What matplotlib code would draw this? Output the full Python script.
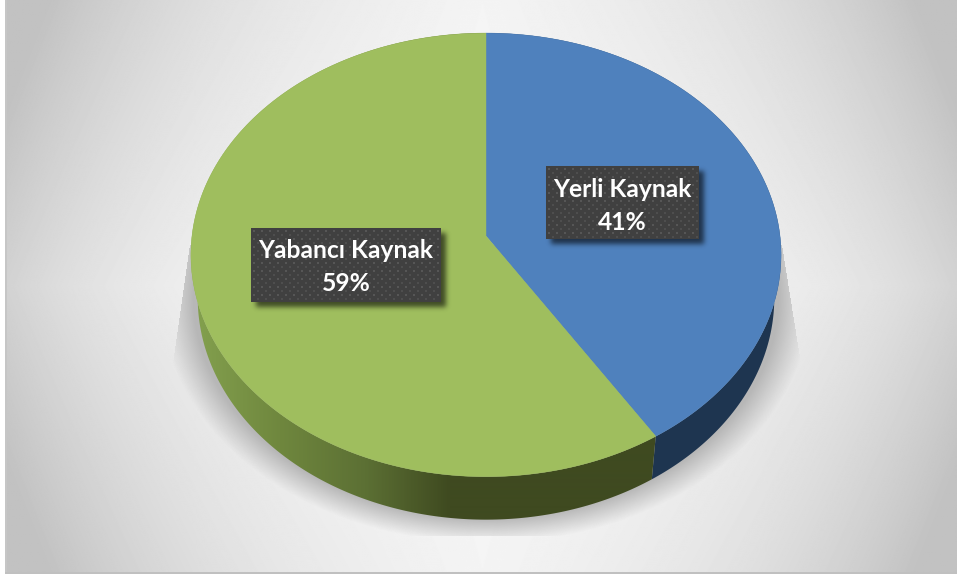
import numpy as np
import matplotlib
matplotlib.use('Agg')
import matplotlib.pyplot as plt
from matplotlib.patches import Polygon, Rectangle
from matplotlib.colors import LinearSegmentedColormap

# --- data ---
categories = ['Yerli Kaynak', 'Yabancı Kaynak']
values = [41, 59]

W, H = 957, 577
BLUE = '#4f81bd'
GREEN = '#9fbe5e'
BLUE_SIDE = '#1e3550'

# pie geometry in pixels (perspective disc)
CX, CY = 486, 236
RX, RY = 294, 220.2
TILT = 0.085
DEPTH = 43
SHRINK = 0.977


def rim(theta_deg):
    # theta runs clockwise from 12 o'clock
    t = np.radians(theta_deg)
    x, y = np.sin(t), np.cos(t)
    d = 1 + TILT * y
    return CX + RX * x / d, CY - RY * y / d


def blur(img, sigma):
    k = np.arange(-int(3 * sigma), int(3 * sigma) + 1)
    g = np.exp(-k**2 / (2 * sigma**2))
    g = g / g.sum()
    img = np.apply_along_axis(lambda r: np.convolve(r, g, mode='same'), 0, img)
    return np.apply_along_axis(lambda r: np.convolve(r, g, mode='same'), 1, img)


fig = plt.figure(figsize=(W / 100, H / 100), dpi=100, facecolor='white')
ax = fig.add_axes([0, 0, 1, 1])
ax.set_xlim(0, W)
ax.set_ylim(H, 0)
ax.axis('off')

yy, xx = np.mgrid[0:H, 0:W] + 0.5

# background gradient
u = np.abs(xx - 480) / 480
v = np.abs(yy - 288) / 288
drop = np.clip(36 * u**3 + 2 * v**2 + 26 * u * v, 0, 52)
ax.imshow(246 - drop, cmap='gray', vmin=0, vmax=255, extent=(5, W, 573, 0),
          aspect='auto', interpolation='bilinear', zorder=1)
ax.add_patch(Rectangle((5, 0), 2, 573, fc='#c6c6c6', ec='none', zorder=2))
ax.add_patch(Rectangle((5, 572), W - 5, 1.5, fc='#c0c0c0', ec='none', zorder=2))

# floor shadow under the pie, cut off by a trapezoid
rho = np.sqrt(((xx - 486) / 325)**2 + ((yy - 298) / 245)**2)
alpha = np.clip((1.0 - rho) / 0.1, 0, 1)
left_edge = 190 - (yy - 245) * 18 / 125
right_edge = 782 + (yy - 245) * 20 / 125
alpha[(xx < left_edge) | (xx > right_edge) | (yy < 245) | (yy > 536)] = 0
shadow = np.zeros((H, W, 4))
shadow[..., :3] = 0.72
shadow[..., 3] = alpha
ax.imshow(shadow, extent=(0, W, H, 0), aspect='auto', interpolation='bilinear', zorder=3)

# slices
angles = np.cumsum([0] + values) / sum(values) * 360
th_blue = np.linspace(angles[0], angles[1], 200)
th_green = np.linspace(angles[1], angles[2], 300)

# side walls
def side_poly(th):
    x, y = rim(th)
    xb = CX + (x - CX) * SHRINK
    yb = y + DEPTH
    return np.r_[np.c_[x, y], np.c_[xb, yb][::-1]]


ax.add_patch(Polygon(side_poly(th_blue), fc=BLUE_SIDE, ec='none', zorder=4))

side_cmap = LinearSegmentedColormap.from_list('side', ['#83a04e', '#6f873e', '#5c7034', '#3f4a20', '#3f4a20'])
grad = np.clip((np.arange(W) + 0.5 - 195) / 340, 0, 1)[None, :]
im = ax.imshow(grad, cmap=side_cmap, vmin=0, vmax=1, extent=(0, W, H, 0),
               aspect='auto', interpolation='bilinear', zorder=4)
side_patch = Polygon(side_poly(th_green), transform=ax.transData, fc='none', ec='none')
ax.add_patch(side_patch)
im.set_clip_path(side_patch)

# top faces
for th, col in [(th_blue, BLUE), (th_green, GREEN)]:
    x, y = rim(th)
    pts = np.r_[[[CX, CY]], np.c_[x, y]]
    ax.add_patch(Polygon(pts, fc=col, ec=col, lw=0.3, zorder=5))

# data labels
boxes = [(546, 166, 153, 73), (251, 228, 190, 74)]
text_y = [206, 267]
for cat, val, (bx, by, bw, bh), ty in zip(categories, values, boxes, text_y):
    m = np.zeros((H, W))
    m[by + 5:by + bh + 5, bx + 5:bx + bw + 5] = 1
    m = blur(m, 2.5)
    rgba = np.zeros((H, W, 4))
    rgba[..., 3] = m * 0.6
    ax.imshow(rgba, extent=(0, W, H, 0), aspect='auto', interpolation='bilinear', zorder=6)
    ax.add_patch(Rectangle((bx, by), bw, bh, fc='#404040', ec='none', zorder=7))
    # dotted texture of the label box
    dx, dy = np.meshgrid(np.arange(bx + 3, bx + bw - 1, 8.0), np.arange(by + 3, by + bh - 1, 8.0))
    dx2, dy2 = dx + 4, dy + 4
    keep = (dx2 < bx + bw - 1) & (dy2 < by + bh - 1)
    ax.scatter(dx, dy, s=2.5, c='#565656', marker='s', linewidths=0, zorder=8)
    ax.scatter(dx2[keep], dy2[keep], s=2.5, c='#4e4e4e', marker='s', linewidths=0, zorder=8)
    ax.text(bx + bw / 2, ty, f'{cat}\n{val}%', color='white', family='Lato', weight='bold',
            fontsize=17.7, ha='center', va='center', linespacing=1.52, zorder=9)

fig.savefig('out.png', dpi=100, facecolor='white')
